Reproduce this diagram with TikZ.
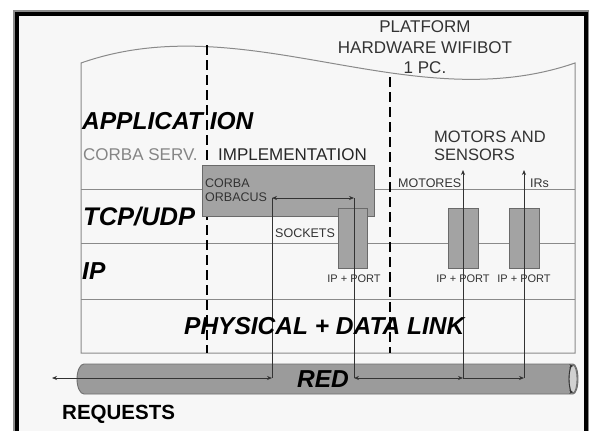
\documentclass[tikz,border=0pt]{standalone}
\usepackage{fontspec}
\setmainfont{Liberation Sans}
\usetikzlibrary{arrows.meta}
\definecolor{bgpanel}{HTML}{F7F7F7}
\definecolor{layerline}{HTML}{8A8A8A}
\definecolor{boxfill}{HTML}{A3A3A3}
\definecolor{boxedge}{HTML}{6A6A6A}
\definecolor{pipefill}{HTML}{9B9B9B}
\definecolor{pipeedge}{HTML}{6E6E6E}
\definecolor{softtext}{HTML}{858585}
\definecolor{darktext}{HTML}{333333}
\begin{document}
\begin{tikzpicture}[x=1pt,y=-1pt,
  big/.style={font=\fontsize{24.5}{29}\selectfont\bfseries\itshape, inner sep=0, anchor=base west},
  mid/.style={font=\fontsize{17}{20}\selectfont, inner sep=0, text=darktext},
  small/.style={font=\fontsize{12.5}{15}\selectfont, inner sep=0, text=darktext, anchor=base west},
  tiny/.style={font=\fontsize{11}{13}\selectfont, inner sep=0, text=darktext, anchor=base},
  layer/.style={draw=layerline, line width=1pt},
  split/.style={draw=black, line width=1.8pt, dash pattern=on 10pt off 5pt},
  module/.style={draw=boxedge, fill=boxfill, line width=0.8pt, inner sep=0, anchor=north west},
  conn/.style={draw=black!80, line width=0.7pt},
  tip/.tip={Stealth[length=5pt,width=4pt]},
  captip/.tip={Stealth[length=3.5pt,width=3.5pt]}
]
\useasboundingbox (0,0) rectangle (589,431);
\fill[white] (0,0) rectangle (589,431);

% window frame
\fill[bgpanel] (17,14) rectangle (585.5,440);
\draw[black!45, line width=2pt] (14,11) rectangle (589,445);
\draw[black, line width=4pt] (17,14) rectangle (585.5,442);

% layer stack with wavy top edge
\draw[layer] (81,353) -- (81,63) .. controls (246,5) and (410,120) .. (575,63) -- (575,353) -- cycle;
\draw[layer] (81,189) -- (575,189);
\draw[layer] (81,243) -- (575,243);
\draw[layer] (81,299) -- (575,299);

% dashed separators
\draw[split] (207,45) -- (207,353);
\draw[split] (390,77) -- (390,353);

% software and hardware modules
\node[module, minimum width=172pt, minimum height=51pt] (corba) at (202,165) {};
\node[module, minimum width=29pt, minimum height=60pt] (sock) at (338,208) {};
\node[module, minimum width=30pt, minimum height=60pt] (mot) at (448,208) {};
\node[module, minimum width=30pt, minimum height=60pt] (irs) at (509,208) {};

% network pipe
\path[fill=pipefill, draw=pipeedge, line width=0.9pt]
  (84,364) -- (573,364) arc[start angle=90, end angle=-90, x radius=5pt, y radius=15pt]
  -- (84,394) arc[start angle=270, end angle=90, x radius=7pt, y radius=15pt] -- cycle;
\draw[pipeedge, fill=black!18, line width=0.9pt] (573,379) ellipse[x radius=4pt, y radius=14pt];
\draw[conn, line width=0.9pt, captip-captip] (573,366) arc[start angle=90, end angle=270, x radius=4pt, y radius=13pt];

% connection points
\coordinate (reqL) at (52,378);
\coordinate (c1b) at (272,378);
\coordinate (c1t) at (272,198);
\coordinate (c2t) at (354,198);
\coordinate (c2b) at (354,378);
\coordinate (c3b) at (463,378);
\coordinate (c4b) at (524,378);
\coordinate (m1) at (463,170);
\coordinate (m2) at (524,170);

\draw[conn, tip-tip] (reqL) -- (c1b);
\draw[conn] (c1b) -- (c1t);
\draw[conn, tip-tip] (c1t) -- (c2t);
\draw[conn] (c2t) -- (c2b);
\draw[conn, tip-tip] (c2b) -- (c3b);
\draw[conn, -tip] (c3b) -- (c4b);
\draw[conn, -tip] (c3b) -- (m1);
\draw[conn, -tip] (c4b) -- (m2);

% layer names
\node[big] (app) at (82,129) {APPLICAT\kern7pt ION};
\node[big, font=\fontsize{25.5}{30}\selectfont\bfseries\itshape] (tcp) at (83,225) {TCP/UDP};
\node[big] (ip) at (82,279) {IP};
\node[big] (phy) at (184,334) {PHYSICAL + DATA LINK};
\node[big] (red) at (297,387) {RED};
\node[font=\fontsize{20.5}{24}\selectfont\bfseries, inner sep=0, anchor=base west] (req) at (62,419) {REQUESTS};

% headings
\node[mid, anchor=base] (plat1) at (425,32) {PLATFORM};
\node[mid, anchor=base] (plat2) at (425,53) {HARDWARE WIFIBOT};
\node[mid, anchor=base] (plat3) at (425,73) {1 PC.};
\node[mid, anchor=base west, text=softtext] (serv) at (83,160) {CORBA SERV.};
\node[mid, anchor=base west, text=black!85] (impl) at (218,160) {IMPLEMENTATION};
\node[mid, anchor=base west, font=\fontsize{16.5}{20}\selectfont] (ms1) at (434,142) {MOTORS AND};
\node[mid, anchor=base west, font=\fontsize{16.5}{20}\selectfont] (ms2) at (434,160) {SENSORS};

% small labels
\node[small] (cb1) at (205,187) {CORBA};
\node[small] (cb2) at (205,201) {ORBACUS};
\node[small] (sockl) at (275,237) {SOCKETS};
\node[small] (motl) at (398,187) {MOTORES};
\node[small] (irl) at (530,187) {IRs};
\node[tiny] (port1) at (354,282.5) {IP + PORT};
\node[tiny] (port2) at (463,282.5) {IP + PORT};
\node[tiny] (port3) at (524,282.5) {IP + PORT};
\end{tikzpicture}
\end{document}
